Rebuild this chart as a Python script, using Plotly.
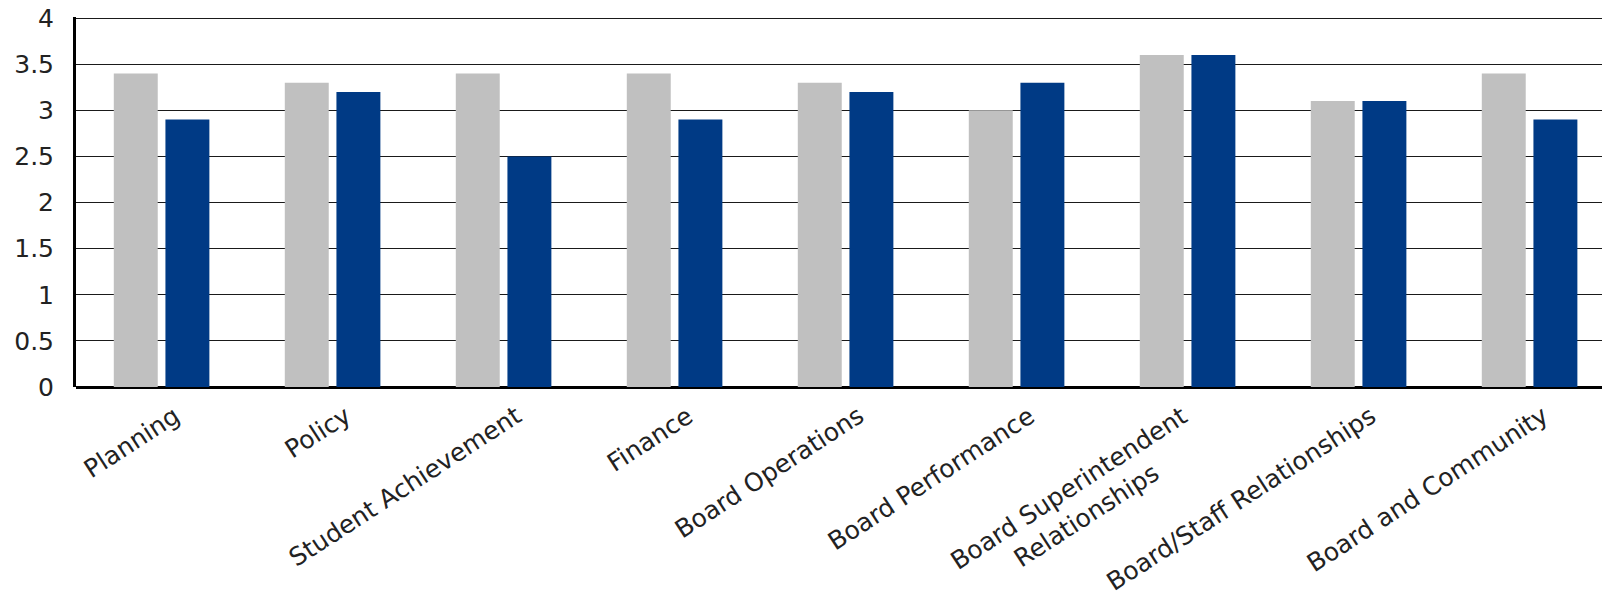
import plotly.graph_objects as go

# Board self-assessment: average rating per area (0-4 scale)
categories = [
    "Planning",
    "Policy",
    "Student Achievement",
    "Finance",
    "Board Operations",
    "Board Performance",
    "Board Superintendent<br>Relationships",
    "Board/Staff Relationships",
    "Board and Community",
]
series_a = [3.4, 3.3, 3.4, 3.4, 3.3, 3.0, 3.6, 3.1, 3.4]   # light grey bars
series_b = [2.9, 3.2, 2.5, 2.9, 3.2, 3.3, 3.6, 3.1, 2.9]   # dark blue bars
y_ticks = [0, 0.5, 1, 1.5, 2, 2.5, 3, 3.5, 4]

GREY = "#C0C0C0"
BLUE = "#003A85"
TEXT = "#222222"
FONT = "DejaVu Sans"

x_idx = list(range(len(categories)))
bar_w = 0.257

fig = go.Figure()
fig.add_trace(go.Bar(
    x=x_idx, y=series_a, width=bar_w, offset=-0.279,
    marker=dict(color=GREY, line=dict(width=0)), showlegend=False,
))
fig.add_trace(go.Bar(
    x=x_idx, y=series_b, width=bar_w, offset=0.023,
    marker=dict(color=BLUE, line=dict(width=0)), showlegend=False,
))

# rotated category labels, centred line by line
for i, label in enumerate(categories):
    fig.add_annotation(
        x=i, y=0, xref="x", yref="y",
        text=label, showarrow=False,
        textangle=-33, align="center",
        xanchor="right", yanchor="top",
        xshift=26, yshift=-11,
        font=dict(family=FONT, size=25, color=TEXT),
    )

fig.update_layout(
    width=1602, height=595,
    margin=dict(l=76, r=0, t=17, b=208),
    paper_bgcolor="white", plot_bgcolor="white",
    barmode="overlay",
    xaxis=dict(
        range=[-0.5, 8.424],
        showticklabels=False, showgrid=False, zeroline=False,
        showline=False, ticks="",
        fixedrange=True,
    ),
    yaxis=dict(
        range=[0, 4.012],
        tickvals=y_ticks,
        ticktext=[f"{v:g}" for v in y_ticks],
        showgrid=True, gridcolor="#1a1a1a", gridwidth=1.4,
        zeroline=True, zerolinecolor="black", zerolinewidth=3,
        showline=True, linecolor="black", linewidth=3,
        ticks="", ticklabelstandoff=14,
        tickfont=dict(family=FONT, size=25, color=TEXT),
        fixedrange=True,
    ),
)

fig.write_html("out.html")
